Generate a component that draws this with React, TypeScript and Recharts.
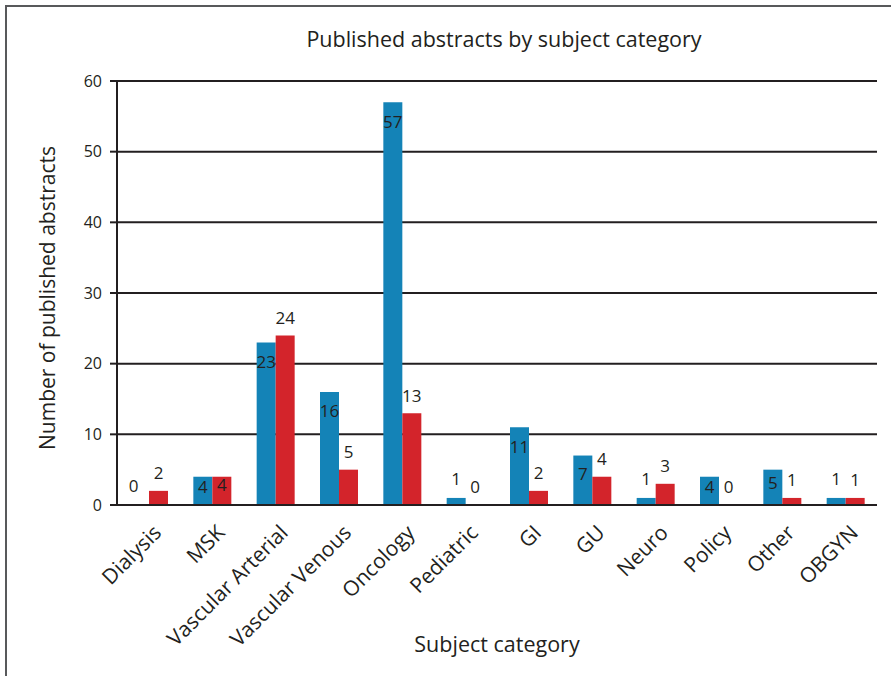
import React from "react";
import { Bar, BarChart, CartesianGrid, LabelList, XAxis, YAxis } from "recharts";

const categories = [
  "Dialysis",
  "MSK",
  "Vascular Arterial",
  "Vascular Venous",
  "Oncology",
  "Pediatric",
  "GI",
  "GU",
  "Neuro",
  "Policy",
  "Other",
  "OBGYN",
];
const blueValues = [0, 4, 23, 16, 57, 1, 11, 7, 1, 4, 5, 1];
const redValues = [2, 4, 24, 5, 13, 0, 2, 4, 3, 0, 1, 1];
const yTicks = [0, 10, 20, 30, 40, 50, 60];

const BLUE = "#1483b7";
const RED = "#d3242b";
const INK = "#231f20";
const FONT = "'Open Sans', sans-serif";

const data = categories.map((name, i) => ({ name, blue: blueValues[i], red: redValues[i] }));

function CategoryTick(props: any) {
  const { x, y, payload } = props;
  const ax = x + 14;
  const ay = y + 21;
  return (
    <text
      x={ax}
      y={ay}
      transform={`rotate(-45, ${ax}, ${ay})`}
      textAnchor="end"
      fontSize={21}
      fontFamily={FONT}
      fill={INK}
    >
      {payload.value}
    </text>
  );
}

function YTitle(props: any) {
  const { viewBox } = props;
  const cx = 47;
  const cy = viewBox.y + viewBox.height / 2 + 5;
  return (
    <text
      x={cx}
      y={cy}
      transform={`rotate(-90, ${cx}, ${cy})`}
      textAnchor="middle"
      dominantBaseline="central"
      fontSize={21}
      fontFamily={FONT}
      fill={INK}
    >
      Number of published abstracts
    </text>
  );
}

// blue numbers sit just inside the top of taller bars, above the short ones
function blueLabel(props: any) {
  const { x, y, width, height, value } = props;
  const inside = value >= 4;
  return (
    <text
      x={x + width / 2 - (value === 0 ? 6 : 0)}
      y={inside ? y + Math.min(19, height * 0.36) : y - 19}
      textAnchor="middle"
      dominantBaseline="central"
      fontSize={17}
      fontFamily={FONT}
      fill={INK}
    >
      {value}
    </text>
  );
}

function redLabel(props: any) {
  const { x, y, width, height, value, index } = props;
  const inside = value >= 4 && blueValues[index] === value;
  return (
    <text
      x={x + width / 2}
      y={inside ? y + height * 0.28 : y - 18}
      textAnchor="middle"
      dominantBaseline="central"
      fontSize={17}
      fontFamily={FONT}
      fill={INK}
    >
      {value}
    </text>
  );
}

export default function App() {
  return (
    <div
      style={{
        position: "absolute",
        left: 0,
        top: 0,
        width: 891,
        height: 676,
        background: "#fff",
      }}
    >
      <div
        style={{
          position: "absolute",
          left: 5,
          top: 5,
          width: 886,
          height: 671,
          borderLeft: "2px solid #58595b",
          borderTop: "2px solid #58595b",
          boxSizing: "border-box",
        }}
      />
      <div
        style={{
          position: "absolute",
          left: 0,
          top: 24,
          width: 1008,
          textAlign: "center",
          fontFamily: FONT,
          fontSize: 21.5,
          color: INK,
        }}
      >
        Published abstracts by subject category
      </div>
      <BarChart
        width={891}
        height={676}
        data={data}
        margin={{ top: 81, right: 14, bottom: 0, left: 0 }}
        barCategoryGap={13}
        barGap={0}
        style={{ position: "absolute", left: 0, top: 0 }}
      >
        <CartesianGrid vertical={false} stroke={INK} strokeWidth={2} strokeOpacity={1} />
        <XAxis
          dataKey="name"
          height={171}
          interval={0}
          tickLine={false}
          axisLine={{ stroke: INK, strokeWidth: 2 }}
          tick={<CategoryTick />}
          label={{
            value: "Subject category",
            position: "insideBottom",
            offset: 24,
            fontSize: 21.5,
            fontFamily: FONT,
            fill: INK,
          }}
        />
        <YAxis
          width={117}
          domain={[0, 60]}
          ticks={yTicks}
          interval={0}
          tickSize={7}
          tickMargin={8}
          tickLine={{ stroke: INK, strokeWidth: 2 }}
          axisLine={{ stroke: INK, strokeWidth: 2 }}
          tick={{ fill: INK, fontSize: 16, fontFamily: FONT }}
          label={{ content: YTitle }}
        />
        <Bar dataKey="blue" fill={BLUE} minPointSize={0.1} isAnimationActive={false}>
          <LabelList dataKey="blue" content={blueLabel} />
        </Bar>
        <Bar dataKey="red" fill={RED} minPointSize={0.1} isAnimationActive={false}>
          <LabelList dataKey="red" content={redLabel} />
        </Bar>
      </BarChart>
    </div>
  );
}
